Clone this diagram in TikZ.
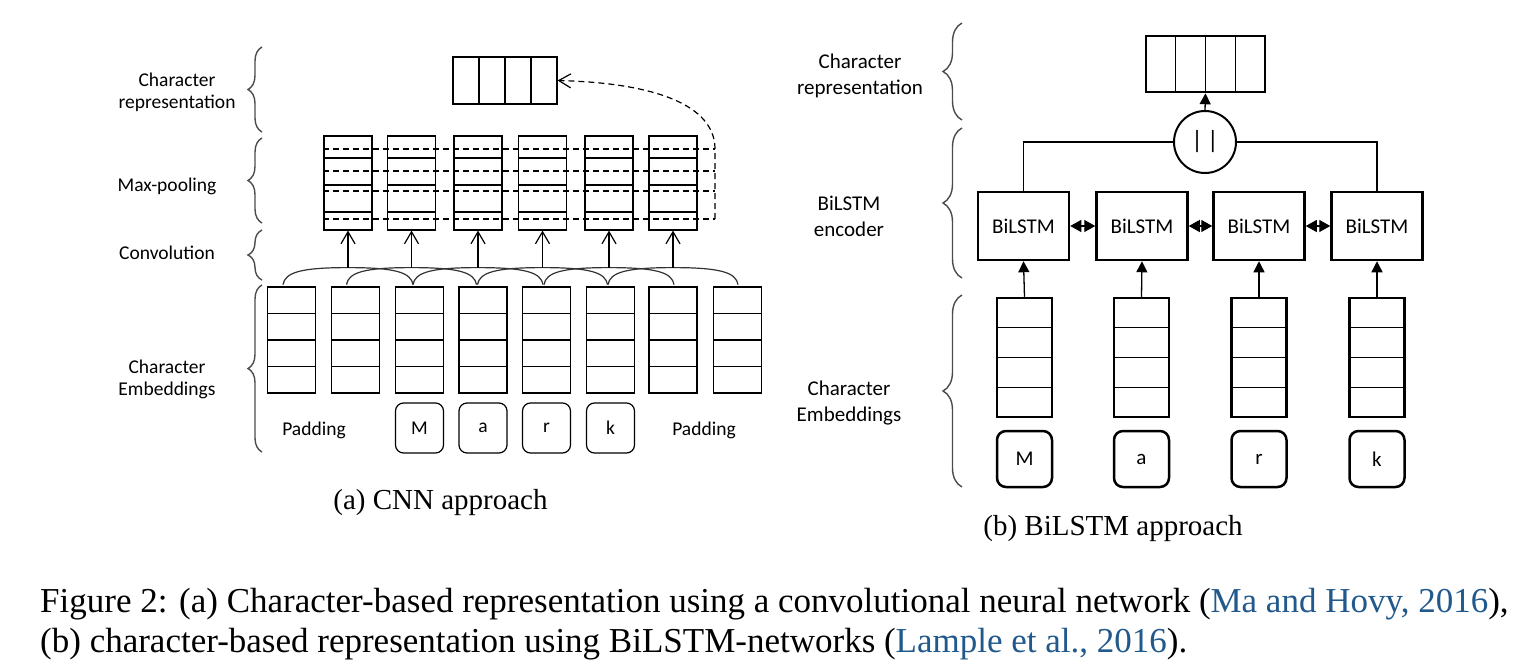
\documentclass[tikz,border=0pt]{standalone}
\usepackage{fontspec}
\setmainfont{Liberation Serif}
\newfontfamily\diagfont{Carlito}
\usetikzlibrary{arrows.meta,calc,decorations.pathreplacing}
\definecolor{citeblue}{RGB}{33,89,140}

\begin{document}
\begin{tikzpicture}[x=1pt, y=-1pt,
    lbl/.style={font=\diagfont\fontsize{19.5}{22}\selectfont, align=center, text=black},
    lblb/.style={font=\diagfont\fontsize{21}{26}\selectfont, align=center, text=black},
    grp/.style={draw=black!70, line width=1.4pt, decorate, decoration={brace, amplitude=#1}},
    grp/.default=14pt,
    rows/.style={path picture={\foreach \f in {#1} \draw[line width=1.2pt] ($(path picture bounding box.north west)!\f!(path picture bounding box.south west)$) -- ($(path picture bounding box.north east)!\f!(path picture bounding box.south east)$);}},
    cols/.style={path picture={\foreach \f in {#1} \draw[line width=1.2pt] ($(path picture bounding box.north west)!\f!(path picture bounding box.north east)$) -- ($(path picture bounding box.south west)!\f!(path picture bounding box.south east)$);}},
    cell/.style={draw, line width=1.2pt, inner sep=0pt},
    pool/.style={cell, minimum width=48pt, minimum height=94pt, rows={0.234,0.521,0.809}},
    emb/.style={cell, minimum width=48pt, minimum height=106pt, rows={0.25,0.5,0.75}},
    chr/.style={lbl, draw, line width=1.2pt, rounded corners=8pt, minimum width=48pt, minimum height=50pt, inner sep=0pt},
    embb/.style={cell, line width=2.5pt, minimum width=55pt, minimum height=119pt, rows={0.25,0.5,0.75}},
    chrb/.style={lblb, draw, line width=2.5pt, rounded corners=9pt, minimum width=55pt, minimum height=56pt, inner sep=0pt},
    lstm/.style={lblb, draw, line width=2.5pt, minimum width=91pt, minimum height=68pt, inner sep=0pt},
    openarr/.style={line width=1.2pt, -{Straight Barb[length=12pt,width=14pt]}},
    fillarr/.style={line width=1.3pt, -{Triangle[length=11pt,width=11pt]}},
    dblarr/.style={line width=1.3pt, {Triangle[length=11pt,width=12pt]}-{Triangle[length=11pt,width=12pt]}},
    pooldash/.style={line width=1.2pt, dash pattern=on 6pt off 4pt}]
  \fill[white] (0,0) rectangle (1519,669);
  \useasboundingbox (0,0) rectangle (1519,669);

  % (a) CNN approach
  \node[lbl] (tcr) at (177,92) {Character\\representation};
  \node[lbl] (tmp) at (167,186) {Max-pooling};
  \node[lbl] (tcv) at (167,253) {Convolution};
  \node[lbl] (tce) at (167,379) {Character\\Embeddings};
  \draw[grp] (262,132) -- (262,47);
  \draw[grp] (262,223) -- (262,138);
  \draw[grp] (262,280) -- (262,230);
  \draw[grp] (262,452) -- (262,285);

  \node[cell, minimum width=104pt, minimum height=47pt, cols={0.25,0.5,0.75}] (cr) at (505,80.5) {};

  \node[pool] (p1) at (348,183) {};
  \node[pool] (p2) at (411.5,183) {};
  \node[pool] (p3) at (478,183) {};
  \node[pool] (p4) at (542.5,183) {};
  \node[pool] (p5) at (609,183) {};
  \node[pool] (p6) at (673,183) {};

  \node[emb] (e1) at (291.5,340) {};
  \node[emb] (e2) at (355.5,340) {};
  \node[emb] (e3) at (419.5,340) {};
  \node[emb] (e4) at (483,340) {};
  \node[emb] (e5) at (546.5,340) {};
  \node[emb] (e6) at (610.5,340) {};
  \node[emb] (e7) at (673,340) {};
  \node[emb] (e8) at (737.5,340) {};

  \node[lbl] (pad1) at (314,430) {Padding};
  \node[chr] (m1) at (419.5,428) {M};
  \node[chr] (m2) at (483,428) {a};
  \node[chr] (m3) at (546.5,428) {r};
  \node[chr] (m4) at (610.5,428) {k};
  \node[lbl] (pad2) at (704,430) {Padding};

  % convolution windows
  \foreach \i in {1,...,6} {
    \coordinate (c\i) at ([yshift=-37pt]p\i.south);
    \draw[line width=1.2pt, black!80] ([xshift=-65pt,yshift=-17pt]c\i) .. controls ([xshift=-63pt,yshift=-5pt]c\i) and ([xshift=-48pt]c\i) .. (c\i)
      .. controls ([xshift=48pt]c\i) and ([xshift=63pt,yshift=-5pt]c\i) .. ([xshift=65pt,yshift=-17pt]c\i);
    \draw[openarr] (c\i) -- (p\i.south);
  }

  % max over rows
  \foreach \yy in {149,171,191,219}
    \draw[pooldash] (323,\yy) -- (715,\yy);
  \draw[pooldash, -{Straight Barb[length=12pt,width=14pt]}] (715,219) -- (715,148) .. controls (714,105) and (655,83) .. (cr.east);

  \node[anchor=base, font=\fontsize{29}{34}\selectfont] (capa) at (440.5,509) {(a) CNN approach};

  % (b) BiLSTM approach
  \node[lblb] (ucr) at (860,76) {Character\\representation};
  \node[lblb] (uen) at (849,216) {BiLSTM\\encoder};
  \node[lblb] (uce) at (849,403) {Character\\Embeddings};
  \draw[grp=19pt] (962,120) -- (962,23);
  \draw[grp=19pt] (962,278) -- (962,128);
  \draw[grp=19pt] (962,487) -- (962,295);

  \node[cell, line width=2.5pt, minimum width=119pt, minimum height=56pt, cols={0.25,0.5,0.75}] (rr) at (1205.5,64) {};
  \node[draw, circle, line width=2pt, minimum size=62pt, inner sep=0pt, font=\diagfont\fontsize{25}{28}\selectfont] (cat) at (1205,142) {\textbar\,\textbar};

  \node[lstm] (b1) at (1023.5,226) {BiLSTM};
  \node[lstm] (b2) at (1142,226) {BiLSTM};
  \node[lstm] (b3) at (1259,226) {BiLSTM};
  \node[lstm] (b4) at (1377,226) {BiLSTM};

  \node[embb] (r1) at (1024.5,357.5) {};
  \node[embb] (r2) at (1141.5,357.5) {};
  \node[embb] (r3) at (1259,357.5) {};
  \node[embb] (r4) at (1377,357.5) {};

  \node[chrb] (l1) at (1024.5,459) {M};
  \node[chrb] (l2) at (1141.5,459) {a};
  \node[chrb] (l3) at (1259,459) {r};
  \node[chrb] (l4) at (1377,459) {k};

  \draw[fillarr] (cat.north) -- (rr.south);
  \draw[line width=1.3pt] (cat.west) -| (b1.north);
  \draw[line width=1.3pt] (cat.east) -| (b4.north);
  \draw[dblarr] (b1.east) -- (b2.west);
  \draw[dblarr] (b2.east) -- (b3.west);
  \draw[dblarr] (b3.east) -- (b4.west);
  \draw[fillarr] (r1.north) -- (b1.south);
  \draw[fillarr] (r2.north) -- (b2.south);
  \draw[fillarr] (r3.north) -- (b3.south);
  \draw[fillarr] (r4.north) -- (b4.south);

  \node[anchor=base, font=\fontsize{29}{34}\selectfont] (capb) at (1113,535) {(b) BiLSTM approach};

  % figure caption
  \node[anchor=base west, inner sep=0pt, font=\fontsize{35}{40}\selectfont] (fig1) at (40,612) {Figure 2: (a) Character-based representation using a convolutional neural network (\textcolor{citeblue}{Ma and Hovy, 2016}),};
  \node[anchor=base west, inner sep=0pt, font=\fontsize{35}{40}\selectfont] (fig2) at (40,652) {(b) character-based representation using BiLSTM-networks (\textcolor{citeblue}{Lample et al., 2016}).};
\end{tikzpicture}
\end{document}
